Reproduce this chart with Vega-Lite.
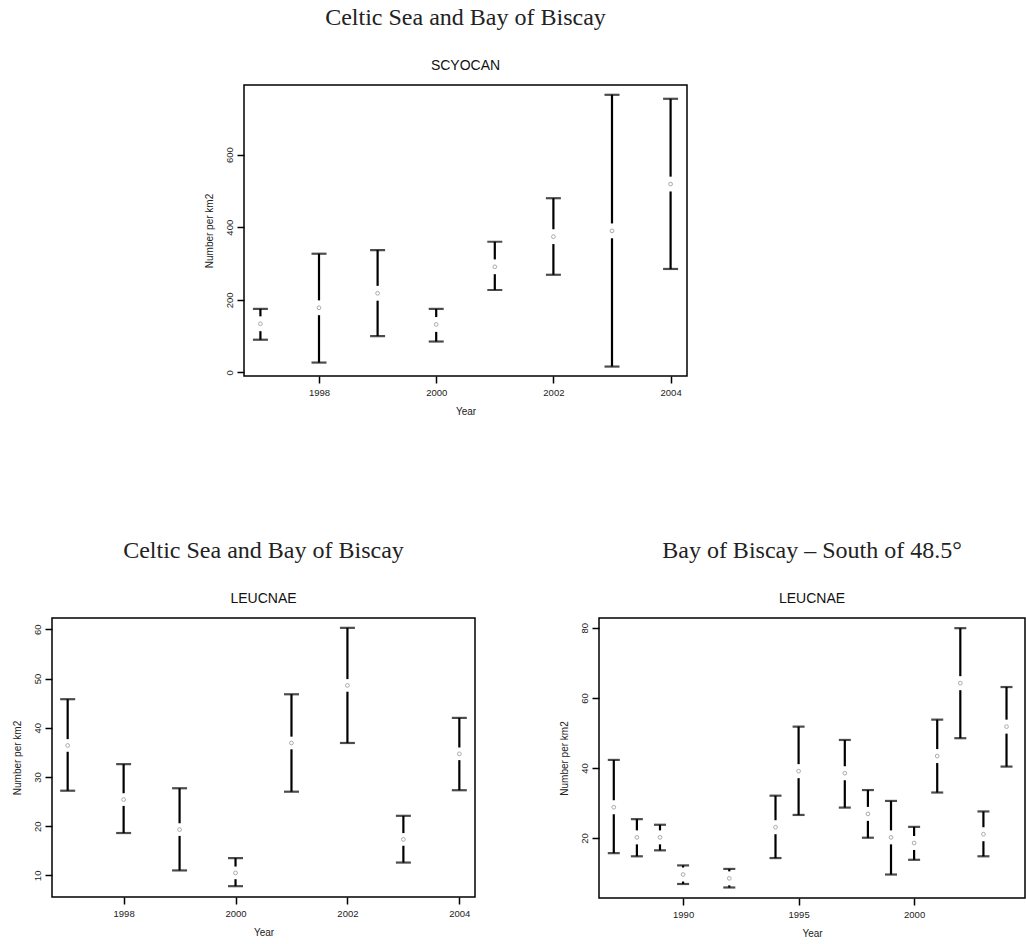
{
  "$schema": "https://vega.github.io/schema/vega-lite/v6.json",
  "background": "white",
  "padding": {"left": 11, "top": 5, "right": 0, "bottom": 0},
  "datasets": {
    "scyocan": [
      {"year": 1997, "mean": 134, "lower": 90, "upper": 175},
      {"year": 1998, "mean": 178, "lower": 27, "upper": 327},
      {"year": 1999, "mean": 218, "lower": 100, "upper": 337},
      {"year": 2000, "mean": 132, "lower": 85, "upper": 175},
      {"year": 2001, "mean": 291, "lower": 227, "upper": 360},
      {"year": 2002, "mean": 374, "lower": 269, "upper": 480},
      {"year": 2003, "mean": 390, "lower": 16, "upper": 765},
      {"year": 2004, "mean": 519, "lower": 285, "upper": 754}
    ],
    "leucnae_celtic": [
      {"year": 1997, "mean": 36.4, "lower": 27.2, "upper": 45.8},
      {"year": 1998, "mean": 25.4, "lower": 18.6, "upper": 32.6},
      {"year": 1999, "mean": 19.3, "lower": 11.0, "upper": 27.7},
      {"year": 2000, "mean": 10.5, "lower": 7.8, "upper": 13.5},
      {"year": 2001, "mean": 36.9, "lower": 27.0, "upper": 46.8},
      {"year": 2002, "mean": 48.6, "lower": 36.9, "upper": 60.3},
      {"year": 2003, "mean": 17.3, "lower": 12.6, "upper": 22.1},
      {"year": 2004, "mean": 34.7, "lower": 27.3, "upper": 42.0}
    ],
    "leucnae_south": [
      {"year": 1987, "mean": 28.8, "lower": 15.7, "upper": 42.3},
      {"year": 1988, "mean": 20.2, "lower": 14.8, "upper": 25.4},
      {"year": 1989, "mean": 20.2, "lower": 16.5, "upper": 23.8},
      {"year": 1990, "mean": 9.6, "lower": 6.9, "upper": 12.2},
      {"year": 1992, "mean": 8.5, "lower": 5.9, "upper": 11.2},
      {"year": 1994, "mean": 23.1, "lower": 14.3, "upper": 32.1},
      {"year": 1995, "mean": 39.1, "lower": 26.6, "upper": 51.8},
      {"year": 1997, "mean": 38.5, "lower": 28.7, "upper": 48.0},
      {"year": 1998, "mean": 26.9, "lower": 20.1, "upper": 33.7},
      {"year": 1999, "mean": 20.2, "lower": 9.6, "upper": 30.6},
      {"year": 2000, "mean": 18.6, "lower": 13.8, "upper": 23.2},
      {"year": 2001, "mean": 43.4, "lower": 33.0, "upper": 53.8},
      {"year": 2002, "mean": 64.2, "lower": 48.5, "upper": 79.9},
      {"year": 2003, "mean": 21.1, "lower": 14.8, "upper": 27.6},
      {"year": 2004, "mean": 51.8, "lower": 40.4, "upper": 63.1}
    ]
  },
  "vconcat": [
    {
      "hconcat": [
        {
          "width": 141, "height": 1,
          "data": {"values": []},
          "mark": "point",
          "view": {"stroke": null}
        },
        {
          "width": 443, "height": 291,
          "data": {"name": "scyocan"},
          "title": {"text": "Celtic Sea and Bay of Biscay", "subtitle": "SCYOCAN"},
          "encoding": {
            "x": {"field": "year", "type": "quantitative",
                  "scale": {"domain": [1996.72, 2004.28], "nice": false, "zero": false},
                  "axis": {"values": [1998, 2000, 2002, 2004], "format": "d", "title": "Year"}}
          },
          "layer": [
            {"mark": {"type": "rule", "strokeWidth": 2.2, "color": "#000"},
             "encoding": {"y": {"field": "lower", "type": "quantitative",
                                "scale": {"domain": [-10, 792], "nice": false, "zero": false},
                                "axis": {"values": [0, 200, 400, 600], "title": "Number per km2"}},
                          "y2": {"field": "upper"}}},
            {"mark": {"type": "tick", "orient": "horizontal", "size": 15, "thickness": 2.2, "color": "#000"},
             "encoding": {"y": {"field": "lower", "type": "quantitative"}}},
            {"mark": {"type": "tick", "orient": "horizontal", "size": 15, "thickness": 2.2, "color": "#000"},
             "encoding": {"y": {"field": "upper", "type": "quantitative"}}},
            {"mark": {"type": "point", "shape": "square", "size": 220, "filled": true, "color": "white", "opacity": 1},
             "encoding": {"y": {"field": "mean", "type": "quantitative"}}},
            {"mark": {"type": "point", "shape": "circle", "size": 14, "filled": false, "color": "#aaa", "strokeWidth": 1, "opacity": 1},
             "encoding": {"y": {"field": "mean", "type": "quantitative"}}}
          ]
        }
      ],
      "spacing": 10
    },
    {
      "hconcat": [
        {
          "width": 423, "height": 279,
          "data": {"name": "leucnae_celtic"},
          "title": {"text": "Celtic Sea and Bay of Biscay", "subtitle": "LEUCNAE"},
          "encoding": {
            "x": {"field": "year", "type": "quantitative",
                  "scale": {"domain": [1996.72, 2004.28], "nice": false, "zero": false},
                  "axis": {"values": [1998, 2000, 2002, 2004], "format": "d", "title": "Year"}}
          },
          "layer": [
            {"mark": {"type": "rule", "strokeWidth": 2.2, "color": "#000"},
             "encoding": {"y": {"field": "lower", "type": "quantitative",
                                "scale": {"domain": [5.6, 62.3], "nice": false, "zero": false},
                                "axis": {"values": [10, 20, 30, 40, 50, 60], "title": "Number per km2"}},
                          "y2": {"field": "upper"}}},
            {"mark": {"type": "tick", "orient": "horizontal", "size": 15, "thickness": 2.2, "color": "#000"},
             "encoding": {"y": {"field": "lower", "type": "quantitative"}}},
            {"mark": {"type": "tick", "orient": "horizontal", "size": 15, "thickness": 2.2, "color": "#000"},
             "encoding": {"y": {"field": "upper", "type": "quantitative"}}},
            {"mark": {"type": "point", "shape": "square", "size": 160, "filled": true, "color": "white", "opacity": 1},
             "encoding": {"y": {"field": "mean", "type": "quantitative"}}},
            {"mark": {"type": "point", "shape": "circle", "size": 14, "filled": false, "color": "#aaa", "strokeWidth": 1, "opacity": 1},
             "encoding": {"y": {"field": "mean", "type": "quantitative"}}}
          ]
        },
        {
          "width": 426, "height": 280,
          "data": {"name": "leucnae_south"},
          "title": {"text": "Bay of Biscay – South of 48.5°", "subtitle": "LEUCNAE"},
          "encoding": {
            "x": {"field": "year", "type": "quantitative",
                  "scale": {"domain": [1986.36, 2004.8], "nice": false, "zero": false},
                  "axis": {"values": [1990, 1995, 2000], "format": "d", "title": "Year"}}
          },
          "layer": [
            {"mark": {"type": "rule", "strokeWidth": 2.2, "color": "#000"},
             "encoding": {"y": {"field": "lower", "type": "quantitative",
                                "scale": {"domain": [2.9, 82.8], "nice": false, "zero": false},
                                "axis": {"values": [20, 40, 60, 80], "title": "Number per km2"}},
                          "y2": {"field": "upper"}}},
            {"mark": {"type": "tick", "orient": "horizontal", "size": 12, "thickness": 2.2, "color": "#000"},
             "encoding": {"y": {"field": "lower", "type": "quantitative"}}},
            {"mark": {"type": "tick", "orient": "horizontal", "size": 12, "thickness": 2.2, "color": "#000"},
             "encoding": {"y": {"field": "upper", "type": "quantitative"}}},
            {"mark": {"type": "point", "shape": "square", "size": 196, "filled": true, "color": "white", "opacity": 1},
             "encoding": {"y": {"field": "mean", "type": "quantitative"}}},
            {"mark": {"type": "point", "shape": "circle", "size": 14, "filled": false, "color": "#aaa", "strokeWidth": 1, "opacity": 1},
             "encoding": {"y": {"field": "mean", "type": "quantitative"}}}
          ]
        }
      ],
      "spacing": 82
    }
  ],
  "spacing": 120,
  "config": {
    "view": {"stroke": "#000", "strokeWidth": 1.5},
    "axis": {
      "domain": false, "grid": false,
      "ticks": true, "tickColor": "#000", "tickWidth": 1.5, "tickSize": 7,
      "labelFont": "Liberation Sans", "labelFontSize": 9.5, "labelColor": "#222",
      "titleFont": "Liberation Sans", "titleFontSize": 10, "titleFontWeight": "normal", "titleColor": "#222"
    },
    "axisY": {"labelAngle": -90, "labelPadding": 3, "titlePadding": 10},
    "axisX": {"labelPadding": 4, "titlePadding": 10},
    "title": {
      "font": "Liberation Serif", "fontSize": 24, "fontWeight": "normal", "color": "#222",
      "subtitleFont": "Liberation Sans", "subtitleFontSize": 14, "subtitleColor": "#111",
      "subtitlePadding": 29, "offset": 12, "anchor": "middle", "frame": "group"
    }
  }
}
